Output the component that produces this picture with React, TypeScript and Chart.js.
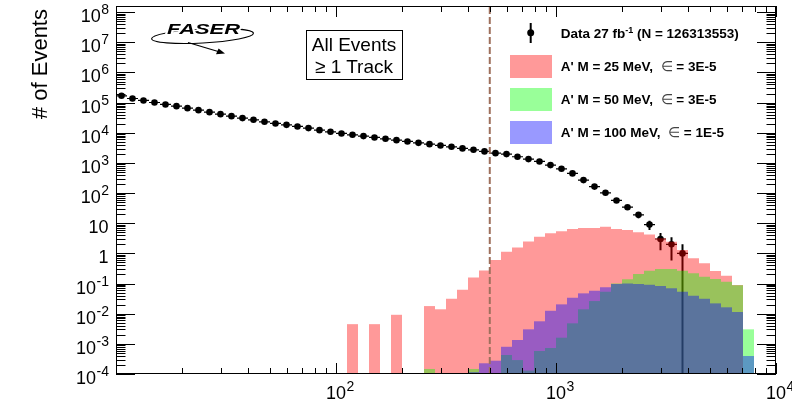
import React, { useEffect, useRef } from 'react';
import { Chart, registerables } from 'chart.js';

Chart.register(...registerables);

// ---------------- data ----------------
const N_BINS = 60;
const E_MIN = 10;
const E_MAX = 10000;
const Y_MIN = 1e-4;
const Y_MAX = 1.6e8;
const CUT_ENERGY = 500;

const X_TICKS = [10, 100, 1000, 10000];
const X_TICK_LABELS = ['', '10^2', '10^3', '10^4'];
const Y_TICKS = [1e-4, 1e-3, 1e-2, 1e-1, 1, 10, 1e2, 1e3, 1e4, 1e5, 1e6, 1e7, 1e8];
const Y_TICK_LABELS = ['10^-4', '10^-3', '10^-2', '10^-1', '1', '10', '10^2', '10^3', '10^4', '10^5', '10^6', '10^7', '10^8'];

// observed events per bin (bins 0..51, later bins empty)
const DATA_COUNTS = [
  168000, 137000, 118000, 101000, 87000, 76400, 65600, 56200, 48300, 41500,
  35600, 30600, 26900, 23100, 20400, 18300, 16200, 14300, 12200, 10750,
  9500, 8550, 7740, 7000, 6300, 5700, 5160, 4640, 4200, 3800,
  3420, 3030, 2720, 2410, 2110, 1960, 1600, 1340, 1120, 846,
  638, 449, 269, 164, 102, 57, 34, 19, 9, 3,
  2, 1,
];

// A' M = 25 MeV, eps = 3E-5
const SIG_25MEV = [
  0, 0, 0, 0, 0, 0, 0, 0, 0, 0,
  0, 0, 0, 0, 0, 0, 0, 0, 0, 0,
  0, 4.5e-3, 0, 4.5e-3, 0, 9.2e-3, 0, 0, 0.0179, 0.014,
  0.0313, 0.0622, 0.16, 0.273, 0.6, 1.13, 1.58, 2.5, 3.56, 4.61,
  5.37, 6.4, 6.9, 6.9, 7.63, 6.4, 5.93, 4.98, 4.27, 3.15,
  2.43, 1.29, 0.684, 0.467, 0.259, 0.181, 0.089, 0, 0, 0,
];

// A' M = 50 MeV, eps = 3E-5
const SIG_50MEV = [
  0, 0, 0, 0, 0, 0, 0, 0, 0, 0,
  0, 0, 0, 0, 0, 0, 0, 0, 0, 0,
  0, 0, 0, 0, 0, 0, 0, 0, 1.47e-4, 0,
  0, 0, 1.47e-4, 0, 0, 4.27e-4, 2.9e-4, 1.3e-4, 5.8e-4, 7.3e-4,
  1.6e-3, 4.8e-3, 0.014, 0.0263, 0.0535, 0.1, 0.138, 0.207, 0.265, 0.302,
  0.302, 0.265, 0.218, 0.168, 0.141, 0.115, 0.087, 3.03e-3, 0, 0,
];

// A' M = 100 MeV, eps = 1E-5
const SIG_100MEV = [
  0, 0, 0, 0, 0, 0, 0, 0, 0, 0,
  0, 0, 0, 0, 0, 0, 0, 0, 0, 0,
  0, 0, 0, 0, 0, 0, 0, 0, 0, 0,
  0, 0, 1.15e-4, 2.27e-4, 2.76e-4, 8.0e-4, 1.34e-3, 3.03e-3, 5.6e-3, 0.0125,
  0.0204, 0.0338, 0.0473, 0.0577, 0.0748, 0.096, 0.101, 0.096, 0.091, 0.0826,
  0.0694, 0.0535, 0.0394, 0.0313, 0.022, 0.0163, 0.0114, 3.95e-4, 0, 0,
];

const FONT = "'Liberation Sans', Arial, Helvetica, sans-serif";
const BASE_FONT = `18px ${FONT}`;
const EXP_FONT = `14px ${FONT}`;

function labelFor(ticks: number[], labels: string[], v: number): string {
  for (let i = 0; i < ticks.length; i++) {
    if (Math.abs(Math.log10(v) - Math.log10(ticks[i])) < 1e-6) return labels[i];
  }
  return '';
}

// draws "10^n" style labels as base text plus raised exponent
function drawPowerLabel(ctx: CanvasRenderingContext2D, label: string, x: number, baseline: number, mode: 'right' | 'center') {
  if (!label) return;
  const [base, exp] = label.split('^');
  ctx.font = BASE_FONT;
  const wBase = ctx.measureText(base).width;
  ctx.font = EXP_FONT;
  const wExp = exp ? ctx.measureText(exp).width : 0;
  const x0 = mode === 'right' ? x - wBase - wExp : x - wBase / 2;
  ctx.textAlign = 'left';
  ctx.textBaseline = 'alphabetic';
  ctx.fillStyle = '#000';
  ctx.font = BASE_FONT;
  ctx.fillText(base, x0, baseline);
  if (exp) {
    ctx.font = EXP_FONT;
    ctx.fillText(exp, x0 + wBase + 0.5, baseline - 8);
  }
}

const frameTicks = {
  id: 'frameTicks',
  afterDatasetsDraw(chart: any) {
    const { ctx, chartArea } = chart;
    const { left, right, top, bottom } = chartArea;
    const xs = chart.scales.xl;
    const ys = chart.scales.y;
    ctx.save();
    ctx.strokeStyle = '#000';
    ctx.lineWidth = 1;
    ctx.beginPath();
    for (let e = 1; e <= 4; e++) {
      for (let k = 1; k <= 9; k++) {
        const v = k * Math.pow(10, e);
        if (v < xs.min * 0.9999 || v > xs.max * 1.0001) continue;
        const len = k === 1 ? 11 : 6;
        const px = Math.round(xs.getPixelForValue(v)) + 0.5;
        ctx.moveTo(px, bottom);
        ctx.lineTo(px, bottom - len);
        ctx.moveTo(px, top);
        ctx.lineTo(px, top + len);
      }
    }
    for (let e = -4; e <= 8; e++) {
      for (let k = 1; k <= 9; k++) {
        const v = k * Math.pow(10, e);
        if (v < ys.min * 0.9999 || v > ys.max * 1.0001) continue;
        const len = k === 1 ? 19 : 9.5;
        const py = Math.round(ys.getPixelForValue(v)) + 0.5;
        ctx.moveTo(left, py);
        ctx.lineTo(left + len, py);
        ctx.moveTo(right, py);
        ctx.lineTo(right - len, py);
      }
    }
    ctx.stroke();
    ctx.strokeRect(left + 0.5, top + 0.5, right - left - 1, bottom - top - 1);

    // axis labels (positions from the scales)
    for (const t of ys.ticks) {
      const py = ys.getPixelForValue(t.value);
      drawPowerLabel(ctx, labelFor(Y_TICKS, Y_TICK_LABELS, t.value), left - 7.5, py + 10, 'right');
    }
    for (const t of xs.ticks) {
      const px = xs.getPixelForValue(t.value);
      drawPowerLabel(ctx, labelFor(X_TICKS, X_TICK_LABELS, t.value), px, bottom + 25, 'center');
    }
    ctx.restore();
  },
};

export default function App() {
  const canvasRef = useRef<HTMLCanvasElement>(null);

  useEffect(() => {
    const canvas = canvasRef.current;
    if (!canvas) return;
    const edges = Array.from({ length: N_BINS + 1 }, (_, i) => E_MIN * Math.pow(E_MAX / E_MIN, i / N_BINS));
    const centers = Array.from({ length: N_BINS }, (_, i) => Math.sqrt(edges[i] * edges[i + 1]));
    const labels = centers.map((c) => c.toFixed(2));
    const toBars = (arr: number[]) => arr.map((v) => (v > 0 ? v : null));

    const points = DATA_COUNTS.map((v, i) => ({ x: centers[i], y: v }));
    const hErr: any[] = [];
    const vErr: any[] = [];
    DATA_COUNTS.forEach((v, i) => {
      hErr.push({ x: edges[i], y: v }, { x: edges[i + 1], y: v }, { x: edges[i + 1], y: null });
      const s = Math.sqrt(v);
      vErr.push({ x: centers[i], y: Math.max(v - s, Y_MIN) }, { x: centers[i], y: v + s }, { x: centers[i], y: null });
    });

    const barCommon = {
      type: 'bar',
      xAxisID: 'x',
      yAxisID: 'y',
      borderWidth: 0,
      barPercentage: 1,
      categoryPercentage: 1,
      grouped: false,
      inflateAmount: 0,
    };

    const chart = new Chart(canvas, {
      type: 'bar',
      data: {
        labels,
        datasets: [
          {
            type: 'line',
            label: 'cut',
            xAxisID: 'xl',
            yAxisID: 'y',
            data: [
              { x: CUT_ENERGY, y: Y_MIN },
              { x: CUT_ENERGY, y: Y_MAX },
            ],
            borderColor: 'rgb(158,112,92)',
            borderWidth: 2,
            borderDash: [7, 3],
            pointRadius: 0,
            order: 0,
          },
          { ...barCommon, label: "A' M = 100 MeV", data: toBars(SIG_100MEV), backgroundColor: 'rgba(0,0,255,0.4)', order: 1 },
          { ...barCommon, label: "A' M = 50 MeV", data: toBars(SIG_50MEV), backgroundColor: 'rgba(0,255,0,0.4)', order: 2 },
          { ...barCommon, label: "A' M = 25 MeV", data: toBars(SIG_25MEV), backgroundColor: 'rgba(255,0,0,0.4)', order: 3 },
          {
            type: 'line',
            label: 'Data',
            xAxisID: 'xl',
            yAxisID: 'y',
            data: points,
            showLine: false,
            pointRadius: 3.3,
            pointBackgroundColor: '#000',
            pointBorderWidth: 0,
            order: 4,
          },
          {
            type: 'line',
            label: 'xerr',
            xAxisID: 'xl',
            yAxisID: 'y',
            data: hErr,
            borderColor: '#000',
            borderWidth: 1.2,
            pointRadius: 0,
            spanGaps: false,
            order: 5,
          },
          {
            type: 'line',
            label: 'yerr',
            xAxisID: 'xl',
            yAxisID: 'y',
            data: vErr,
            borderColor: '#000',
            borderWidth: 2,
            pointRadius: 0,
            spanGaps: false,
            order: 6,
          },
        ],
      } as any,
      options: {
        responsive: false,
        animation: false,
        devicePixelRatio: 1,
        events: [],
        layout: { padding: { top: 6, right: 16, bottom: 0, left: 0 } },
        plugins: {
          legend: { display: false },
          tooltip: { enabled: false },
        },
        scales: {
          x: {
            type: 'category',
            display: false,
            offset: true,
            grid: { display: false },
          },
          xl: {
            type: 'logarithmic',
            position: 'bottom',
            min: E_MIN,
            max: E_MAX,
            offset: false,
            bounds: 'data',
            grid: { display: false, drawTicks: false },
            border: { display: false },
            afterBuildTicks: (s: any) => {
              s.ticks = X_TICKS.map((v) => ({ value: v }));
            },
            afterFit: (s: any) => {
              s.height = 34;
              s.paddingLeft = 0;
              s.paddingRight = 0;
            },
            ticks: {
              autoSkip: false,
              maxRotation: 0,
              minRotation: 0,
              padding: 8,
              color: '#000',
              font: { family: FONT, size: 18 },
              callback: () => '',
            },
          },
          y: {
            type: 'logarithmic',
            position: 'left',
            min: Y_MIN,
            max: Y_MAX,
            bounds: 'data',
            grid: { display: false, drawTicks: false },
            border: { display: false },
            afterBuildTicks: (s: any) => {
              s.ticks = Y_TICKS.map((v) => ({ value: v }));
            },
            afterFit: (s: any) => {
              s.width = 116;
              s.paddingTop = 0;
              s.paddingBottom = 0;
            },
            ticks: {
              autoSkip: false,
              padding: 8,
              color: '#000',
              font: { family: FONT, size: 18 },
              callback: () => '',
            },
          },
        },
      } as any,
      plugins: [frameTicks],
    });

    return () => chart.destroy();
  }, []);

  return (
    <div style={{ position: 'fixed', left: 0, top: 0, width: 792, height: 408, background: '#fff' }}>
      <canvas ref={canvasRef} width={792} height={408} style={{ display: 'block', width: 792, height: 408 }} />
      <svg
        width={792}
        height={408}
        style={{ position: 'absolute', left: 0, top: 0, overflow: 'visible' }}
        fontFamily={FONT}
      >
        {/* y-axis title */}
        <text x={0} y={0} fontSize={22} textAnchor="end" fill="#000" transform="translate(47 9) rotate(-90)">
          # of Events
        </text>

        {/* FASER logo */}
        <ellipse cx={202.5} cy={36} rx={51} ry={7} fill="none" stroke="#000" strokeWidth={1.1} transform="rotate(-3 202.5 36)" />
        <text
          x={167}
          y={34}
          fontSize={14.5}
          fontWeight="900"
          fontStyle="italic"
          textLength={73}
          lengthAdjust="spacingAndGlyphs"
          stroke="#fff"
          strokeWidth={3}
          paintOrder="stroke"
          fill="#000"
        >
          FASER
        </text>
        <line x1={188} y1={42.5} x2={219} y2={51.8} stroke="#000" strokeWidth={1.2} />
        <polygon points="225,53.6 216,54.2 218.6,48.6" fill="#000" />

        {/* selection box */}
        <rect x={306.5} y={30.5} width={96} height={49} fill="#fff" stroke="#000" strokeWidth={1} />
        <text x={354} y={50.5} fontSize={19} textAnchor="middle" fill="#000">All Events</text>
        <text x={354} y={72.5} fontSize={19} textAnchor="middle" fill="#000">≥ 1 Track</text>

        {/* legend */}
        <line x1={530.7} y1={23} x2={530.7} y2={43} stroke="#000" strokeWidth={2} />
        <circle cx={530.7} cy={32.7} r={3.5} fill="#000" />
        <text x={560.7} y={37.5} fontSize={13.5} fontWeight="bold" fill="#000" style={{ whiteSpace: 'pre' }}>
          Data 27 fb<tspan fontSize={9} dy={-5}>-1</tspan><tspan dy={5}> (N = 126313553)</tspan>
        </text>

        <rect x={510} y={55} width={42} height={23} fill="#ff9999" />
        <text x={560.7} y={70.5} fontSize={13.5} fontWeight="bold" fill="#000" style={{ whiteSpace: 'pre' }}>
          {"A' M = 25 MeV,  "}<tspan fontWeight="normal" fill="#444">∈</tspan>{' = 3E-5'}
        </text>

        <rect x={510} y={88} width={42} height={23} fill="#99ff99" />
        <text x={560.7} y={103.8} fontSize={13.5} fontWeight="bold" fill="#000" style={{ whiteSpace: 'pre' }}>
          {"A' M = 50 MeV,  "}<tspan fontWeight="normal" fill="#444">∈</tspan>{' = 3E-5'}
        </text>

        <rect x={510} y={121} width={42} height={23} fill="#9999ff" />
        <text x={560.7} y={136.5} fontSize={13.5} fontWeight="bold" fill="#000" style={{ whiteSpace: 'pre' }}>
          {"A' M = 100 MeV,  "}<tspan fontWeight="normal" fill="#444">∈</tspan>{' = 1E-5'}
        </text>
      </svg>
    </div>
  );
}
